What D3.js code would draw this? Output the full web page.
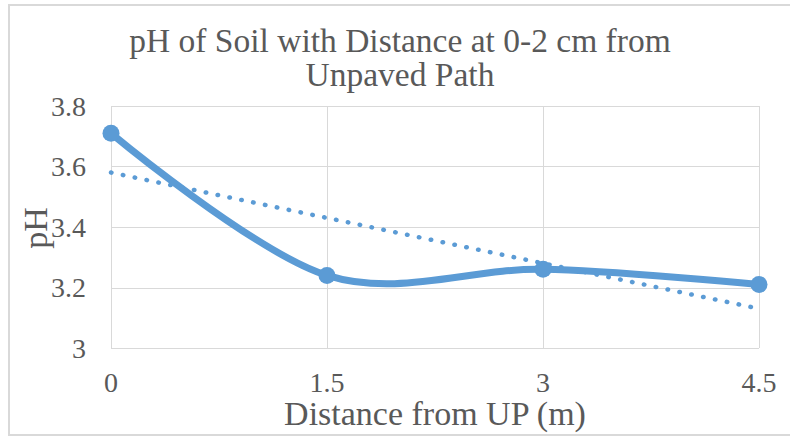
<!DOCTYPE html>
<html>
<head>
<meta charset="utf-8">
<script src="https://cdn.jsdelivr.net/npm/d3@7"></script>
<style>
    body { margin: 0; background: white; }
    svg { display: block; }
    text { font-family: "Liberation Serif", "Times New Roman", serif; fill: #595959; }
</style>
</head>
<body>
<svg width="790" height="438"></svg>
<script>
var distances = [0, 1.5, 3, 4.5];
var phValues = [3.71, 3.24, 3.26, 3.21];

// linear trend line end points
var trendDistances = [0, 4.5];
var trendValues = [3.58, 3.13];

var xTicks = [0, 1.5, 3, 4.5];
var xTickLabels = ["0", "1.5", "3", "4.5"];
var yTicks = [3, 3.2, 3.4, 3.6, 3.8];
var yTickLabels = ["3", "3.2", "3.4", "3.6", "3.8"];

var titleLines = ["pH of Soil with Distance at 0-2 cm from", "Unpaved Path"];
var xTitle = "Distance from UP (m)";
var yTitle = "pH";

var blue = "#5b9bd5";
var gridColor = "#d9d9d9";

var xScale = d3.scaleLinear().domain([0, 4.5]).range([111, 759]);
var yScale = d3.scaleLinear().domain([3, 3.8]).range([348, 106]);

var svg = d3.select("svg");

// Outer frame
svg.append("line").attr("x1", 8).attr("x2", 790).attr("y1", 5).attr("y2", 5)
    .style("stroke", gridColor).style("stroke-width", 2);
svg.append("line").attr("x1", 9).attr("x2", 9).attr("y1", 4).attr("y2", 436)
    .style("stroke", gridColor).style("stroke-width", 2);
svg.append("line").attr("x1", 8).attr("x2", 790).attr("y1", 435).attr("y2", 435)
    .style("stroke", gridColor).style("stroke-width", 2);

// Gridlines
svg.append("g")
    .selectAll("line")
    .data(yTicks)
    .join("line")
    .attr("x1", xScale(0))
    .attr("x2", xScale(4.5))
    .attr("y1", d => Math.round(yScale(d)) + 0.5)
    .attr("y2", d => Math.round(yScale(d)) + 0.5)
    .style("stroke", gridColor)
    .style("stroke-width", 1);

svg.append("g")
    .selectAll("line")
    .data(xTicks)
    .join("line")
    .attr("x1", d => Math.round(xScale(d)) + 0.5)
    .attr("x2", d => Math.round(xScale(d)) + 0.5)
    .attr("y1", yScale(3.8))
    .attr("y2", yScale(3))
    .style("stroke", gridColor)
    .style("stroke-width", 1);

// Tick labels
svg.append("g")
    .selectAll("text")
    .data(yTicks)
    .join("text")
    .attr("x", 86)
    .attr("y", d => yScale(d) + 9.5)
    .attr("text-anchor", "end")
    .style("font-size", "28px")
    .text((d, i) => yTickLabels[i]);

svg.append("g")
    .selectAll("text")
    .data(xTicks)
    .join("text")
    .attr("x", d => xScale(d))
    .attr("y", 392)
    .attr("text-anchor", "middle")
    .style("font-size", "28px")
    .text((d, i) => xTickLabels[i]);

// Title
svg.append("g")
    .selectAll("text")
    .data(titleLines)
    .join("text")
    .attr("x", 400)
    .attr("y", (d, i) => 52 + i * 34)
    .attr("text-anchor", "middle")
    .style("font-size", "33.5px")
    .text(d => d);

// Axis titles
svg.append("text")
    .attr("x", 435)
    .attr("y", 425)
    .attr("text-anchor", "middle")
    .style("font-size", "34px")
    .text(xTitle);

svg.append("text")
    .attr("transform", "translate(47,228) rotate(-90)")
    .attr("text-anchor", "middle")
    .style("font-size", "34px")
    .text(yTitle);

// Trend line (dotted)
var trendLine = d3.line()
    .x((d, i) => xScale(trendDistances[i]))
    .y(d => yScale(d));

svg.append("path")
    .attr("d", trendLine(trendValues))
    .attr("fill", "none")
    .style("stroke", blue)
    .style("stroke-width", 4.5)
    .style("stroke-linecap", "round")
    .style("stroke-dasharray", "0.5 11.6");

// Smoothed data line
var dataLine = d3.line()
    .x((d, i) => xScale(distances[i]))
    .y(d => yScale(d))
    .curve(d3.curveCardinal.tension(0));

svg.append("path")
    .attr("d", dataLine(phValues))
    .attr("fill", "none")
    .style("stroke", blue)
    .style("stroke-width", 7)
    .style("stroke-linejoin", "round");

// Markers
svg.append("g")
    .selectAll("circle")
    .data(phValues)
    .join("circle")
    .attr("cx", (d, i) => xScale(distances[i]))
    .attr("cy", d => yScale(d))
    .attr("r", 8.5)
    .attr("fill", blue);
</script>
</body>
</html>
